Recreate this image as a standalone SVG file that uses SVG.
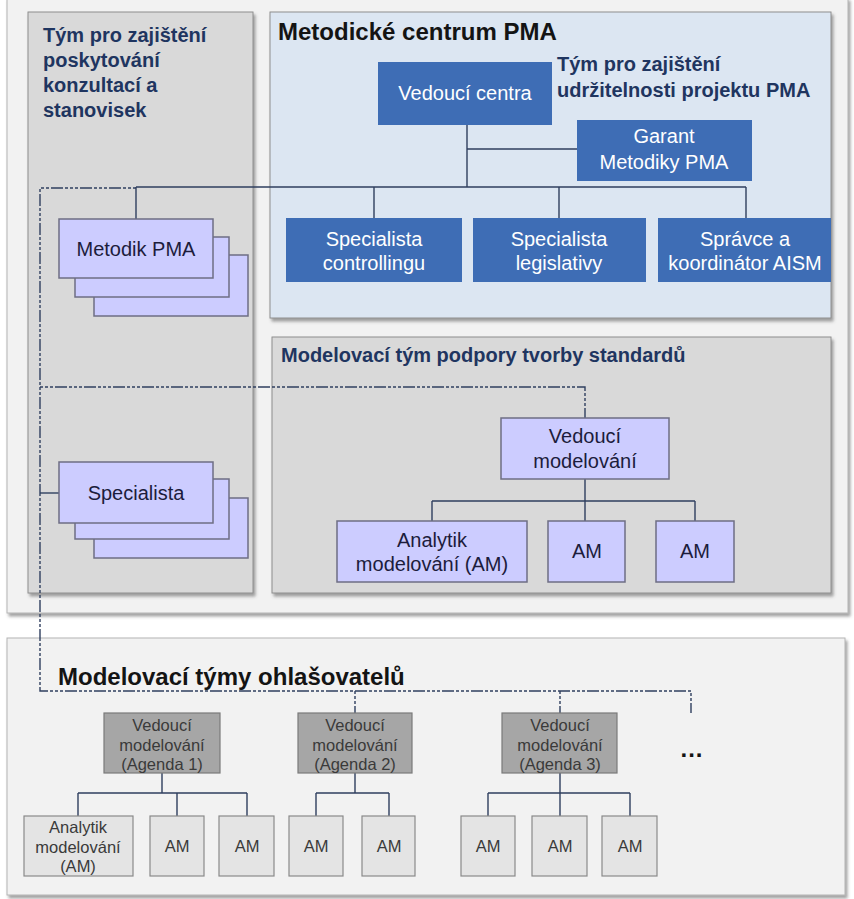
<svg xmlns="http://www.w3.org/2000/svg" width="854" height="899" viewBox="0 0 854 899">
<defs>
<filter id="sh" x="-5%" y="-5%" width="110%" height="115%">
<feDropShadow dx="2" dy="3" stdDeviation="1.5" flood-color="#555" flood-opacity="0.55"/>
</filter>
<style>
text{font-family:"Liberation Sans",Arial,sans-serif}
.panel{fill:#f2f2f2;stroke:#b4b4b4;stroke-width:1}
.grey{fill:#d9d9d9;stroke:#8e8e8e;stroke-width:1}
.lblue{fill:#dce6f2;stroke:#8e8e8e;stroke-width:1}
.blue{fill:#3e6db5;stroke:none}
.lav{fill:#ccccff;stroke:#6e6e84;stroke-width:1.5}
.ag{fill:#a6a6a6;stroke:#7a7a7a;stroke-width:1.2}
.am{fill:#e4e4e4;stroke:#8a8a8a;stroke-width:1.2}
.wt{fill:#ffffff;font-size:20px;text-anchor:middle}
.lt{fill:#1c1c3c;font-size:20px;text-anchor:middle}
.gt{fill:#3a3a3a;font-size:16.5px;text-anchor:middle}
.navy{fill:#1f3560;font-size:20px;font-weight:bold}
.title{fill:#141414;font-size:24px;font-weight:bold}
.solid{fill:none;stroke:#2f3f5f;stroke-width:1.4}
.dash{fill:none;stroke:#2f3f5f;stroke-width:1.4;stroke-dasharray:3 2 3 2 3 2 12 2}
</style>
</defs>
<rect width="854" height="899" fill="#ffffff"/>

<g id="panel-top">
<rect class="panel" x="7" y="-2" width="841" height="615" filter="url(#sh)"/>
</g>
<g id="panel-konzultace">
<rect class="grey" x="28" y="12" width="225" height="581" filter="url(#sh)"/>
<text class="navy" x="43" y="42">Tým pro zajištění</text>
<text class="navy" x="43" y="67">poskytování</text>
<text class="navy" x="43" y="92">konzultací a</text>
<text class="navy" x="43" y="117">stanovisek</text>
</g>
<g id="panel-centrum">
<rect class="lblue" x="270" y="12" width="561" height="306" filter="url(#sh)"/>
<text class="title" x="278" y="40">Metodické centrum PMA</text>
<text class="navy" x="557" y="71">Tým pro zajištění</text>
<text class="navy" x="557" y="97">udržitelnosti projektu PMA</text>
</g>
<g id="panel-modelovaci">
<rect class="grey" x="272" y="337" width="559" height="256" filter="url(#sh)"/>
<text class="navy" x="281" y="362">Modelovací tým podpory tvorby standardů</text>
</g>
<g id="panel-ohlasovatele">
<rect class="panel" x="7" y="638" width="838" height="257" filter="url(#sh)"/>
<text class="title" x="58" y="685">Modelovací týmy ohlašovatelů</text>
<text x="692" y="757" font-size="24" font-weight="bold" fill="#141414" text-anchor="middle" letter-spacing="1">...</text>
</g>

<g id="connectors">
<path class="dash" d="M136,188 H40 V691 H691 V713"/>
<path class="dash" d="M40,387 H585 V418"/>
<path class="dash" d="M355,691 V713 M560,691 V713"/>
<path class="solid" d="M40,493 H59"/>
<path class="solid" d="M467,125 V187 M467,149 H577 M136,187 H746 M374,187 V218 M559,187 V218 M746,187 V218 M136,187 V219"/>
<path class="solid" d="M585,479 V521 M432,501 H695 M432,501 V521 M695,501 V521"/>
<path class="solid" d="M162,773 V793 M78,793 H247 M78,793 V816 M177,793 V816 M247,793 V816"/>
<path class="solid" d="M355,773 V793 M316,793 H389 M316,793 V816 M389,793 V816"/>
<path class="solid" d="M560,773 V816 M488,793 H630 M488,793 V816 M630,793 V816"/>
</g>

<g id="vedouci-centra">
<rect class="blue" x="378" y="62" width="174" height="63"/>
<text class="wt" x="465" y="100">Vedoucí centra</text>
</g>
<g id="garant">
<rect class="blue" x="577" y="120" width="175" height="61"/>
<text class="wt" x="664" y="143">Garant</text>
<text class="wt" x="664" y="169">Metodiky PMA</text>
</g>
<g id="spec-controlling">
<rect class="blue" x="286" y="218" width="176" height="64"/>
<text class="wt" x="374" y="246">Specialista</text>
<text class="wt" x="374" y="270">controllingu</text>
</g>
<g id="spec-legislativa">
<rect class="blue" x="473" y="218" width="173" height="64"/>
<text class="wt" x="559" y="246">Specialista</text>
<text class="wt" x="559" y="270">legislativy</text>
</g>
<g id="spravce-aism">
<rect class="blue" x="658" y="218" width="173" height="64"/>
<text class="wt" x="745" y="246">Správce a</text>
<text class="wt" x="745" y="270">koordinátor AISM</text>
</g>

<g id="metodik-pma">
<rect class="lav" x="94" y="255" width="154" height="61"/>
<rect class="lav" x="75" y="237" width="154" height="60"/>
<rect class="lav" x="59" y="219" width="154" height="59"/>
<text class="lt" x="136" y="256">Metodik PMA</text>
</g>
<g id="specialista">
<rect class="lav" x="94" y="498" width="154" height="60"/>
<rect class="lav" x="75" y="479" width="154" height="60"/>
<rect class="lav" x="59" y="462" width="154" height="61"/>
<text class="lt" x="136" y="500">Specialista</text>
</g>

<g id="vedouci-modelovani">
<rect class="lav" x="501" y="418" width="168" height="61"/>
<text class="lt" x="585" y="443">Vedoucí</text>
<text class="lt" x="585" y="468">modelování</text>
</g>
<g id="analytik">
<rect class="lav" x="337" y="521" width="190" height="61"/>
<text class="lt" x="432" y="547">Analytik</text>
<text class="lt" x="432" y="571">modelování (AM)</text>
</g>
<g id="am-1">
<rect class="lav" x="548" y="521" width="77" height="61"/>
<text class="lt" x="587" y="558">AM</text>
</g>
<g id="am-2">
<rect class="lav" x="656" y="521" width="78" height="61"/>
<text class="lt" x="695" y="558">AM</text>
</g>

<g id="agenda-1">
<rect class="ag" x="104" y="713" width="116" height="60"/>
<text class="gt" x="162" y="731">Vedoucí</text>
<text class="gt" x="162" y="751">modelování</text>
<text class="gt" x="162" y="770">(Agenda 1)</text>
</g>
<g id="agenda-2">
<rect class="ag" x="298" y="713" width="114" height="60"/>
<text class="gt" x="355" y="731">Vedoucí</text>
<text class="gt" x="355" y="751">modelování</text>
<text class="gt" x="355" y="770">(Agenda 2)</text>
</g>
<g id="agenda-3">
<rect class="ag" x="502" y="713" width="115" height="60"/>
<text class="gt" x="560" y="731">Vedoucí</text>
<text class="gt" x="560" y="751">modelování</text>
<text class="gt" x="560" y="770">(Agenda 3)</text>
</g>

<g id="a1-analytik">
<rect class="am" x="24" y="816" width="109" height="60"/>
<text class="gt" x="78" y="833">Analytik</text>
<text class="gt" x="78" y="853">modelování</text>
<text class="gt" x="78" y="872">(AM)</text>
</g>
<g id="a1-am1"><rect class="am" x="150" y="816" width="54" height="60"/><text class="gt" x="177" y="852">AM</text></g>
<g id="a1-am2"><rect class="am" x="219" y="816" width="55" height="60"/><text class="gt" x="247" y="852">AM</text></g>
<g id="a2-am1"><rect class="am" x="289" y="816" width="54" height="60"/><text class="gt" x="316" y="852">AM</text></g>
<g id="a2-am2"><rect class="am" x="362" y="816" width="53" height="60"/><text class="gt" x="389" y="852">AM</text></g>
<g id="a3-am1"><rect class="am" x="461" y="816" width="54" height="60"/><text class="gt" x="488" y="852">AM</text></g>
<g id="a3-am2"><rect class="am" x="532" y="816" width="55" height="60"/><text class="gt" x="560" y="852">AM</text></g>
<g id="a3-am3"><rect class="am" x="602" y="816" width="55" height="60"/><text class="gt" x="630" y="852">AM</text></g>
</svg>
